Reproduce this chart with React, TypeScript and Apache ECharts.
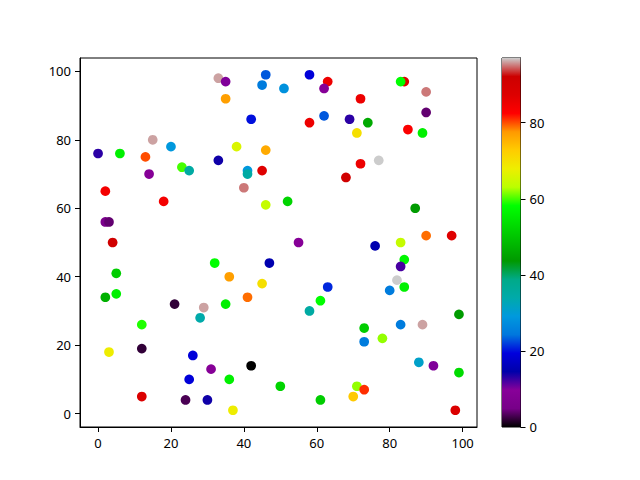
import React, { useEffect, useRef } from "react";
import * as echarts from "echarts";

// x, y, colour value of each point
const xs = [33, 35, 46, 45, 35, 42, 15, 0, 6, 13, 20, 38, 46, 23, 25, 33, 14, 41, 41, 45, 40, 2, 51, 58, 63, 62, 62, 58, 72, 69, 74, 71, 84, 83, 90, 90, 85, 89, 77, 72, 68, 18, 46, 2, 3, 4, 32, 47, 5, 36, 45, 2, 5, 41, 21, 29, 35, 52, 87, 90, 97, 55, 76, 83, 84, 83, 82, 84, 80, 63, 61, 58, 12, 28, 3, 12, 26, 42, 31, 25, 36, 50, 12, 24, 30, 37, 99, 73, 83, 89, 78, 73, 88, 92, 99, 71, 73, 70, 61, 98];
const ys = [98, 97, 99, 96, 92, 86, 80, 76, 76, 75, 78, 78, 77, 72, 71, 74, 70, 71, 70, 71, 66, 65, 95, 99, 97, 95, 87, 85, 92, 86, 85, 82, 97, 97, 94, 88, 83, 82, 74, 73, 69, 62, 61, 56, 56, 50, 44, 44, 41, 40, 38, 34, 35, 34, 32, 31, 32, 62, 60, 52, 52, 50, 49, 50, 45, 43, 39, 37, 36, 37, 33, 30, 26, 28, 18, 19, 17, 14, 13, 10, 10, 8, 5, 4, 4, 1, 29, 25, 26, 26, 22, 21, 15, 14, 12, 8, 7, 5, 4, 1];
const vals = [96, 10, 23, 25, 77, 20, 96, 13, 56, 80, 29, 66, 76, 60, 35, 14, 9, 29, 35, 87, 95, 84, 28, 19, 85, 9, 23, 85, 85, 13, 46, 70, 87, 58, 95, 4, 83, 56, 97, 85, 91, 84, 64, 6, 4, 91, 58, 15, 51, 77, 70, 47, 56, 79, 2, 96, 56, 52, 44, 79, 87, 9, 15, 64, 57, 12, 97, 56, 25, 21, 58, 35, 59, 34, 68, 2, 19, 0, 9, 19, 56, 52, 88, 3, 14, 68, 44, 51, 25, 96, 62, 25, 31, 10, 53, 62, 81, 73, 51, 88];

const xTicks = [0, 20, 40, 60, 80, 100];
const yTicks = [0, 20, 40, 60, 80, 100];
const cbTicks = [0, 20, 40, 60, 80];
const vMin = 0;
const vMax = 97;

// nipy_spectral colormap, 21 evenly spaced stops
const cmap = [
  "#000000", "#770088", "#880099", "#0000aa", "#0000dd", "#0077dd", "#0099dd",
  "#00aaaa", "#00aa88", "#009900", "#00bb00", "#00dd00", "#00ff00", "#bbff00",
  "#eeee00", "#ffcc00", "#ff9900", "#ff0000", "#dd0000", "#cc0000", "#cccccc",
];

export default function App() {
  const ref = useRef<HTMLDivElement>(null);
  useEffect(() => {
    if (!ref.current) return;
    const chart = echarts.init(ref.current, undefined, { renderer: "svg" });
    const font = "Noto Sans";
    const data = xs.map((x, i) => [x, ys[i], vals[i]]);
    const stops = cmap.map((c, i) => ({ offset: i / (cmap.length - 1), color: c }));
    const labelStyle = { color: "#000", fontSize: 13, fontFamily: font };
    chart.setOption({
      animation: false,
      backgroundColor: "#fff",
      grid: [
        { left: 80, top: 58, width: 397, height: 369, show: true, borderColor: "#000", borderWidth: 1, backgroundColor: "transparent" },
        { left: 502, top: 58, width: 18.5, height: 369, show: true, borderColor: "#000", borderWidth: 1, backgroundColor: "transparent" },
      ],
      xAxis: [
        {
          type: "value", gridIndex: 0, min: -4.95, max: 103.95,
          axisLine: { show: true, onZero: false, lineStyle: { color: "#000", width: 1 } },
          axisTick: { show: true, length: 5, inside: false, lineStyle: { color: "#000" }, customValues: xTicks },
          axisLabel: { ...labelStyle, margin: 9, customValues: xTicks },
          splitLine: { show: false },
        },
        {
          type: "category", gridIndex: 1, data: ["c"], show: false,
        },
      ],
      yAxis: [
        {
          type: "value", gridIndex: 0, min: -3.9, max: 103.9,
          axisLine: { show: true, onZero: false, lineStyle: { color: "#000", width: 1 } },
          axisTick: { show: true, length: 5, inside: false, lineStyle: { color: "#000" }, customValues: yTicks },
          axisLabel: { ...labelStyle, margin: 9, customValues: yTicks },
          splitLine: { show: false },
        },
        {
          type: "value", gridIndex: 1, min: vMin, max: vMax, position: "right",
          axisLine: { show: true, lineStyle: { color: "#000", width: 1 } },
          axisTick: { show: true, length: 5, inside: false, lineStyle: { color: "#000" }, customValues: cbTicks },
          axisLabel: { ...labelStyle, margin: 9, customValues: cbTicks },
          splitLine: { show: false },
        },
      ],
      visualMap: {
        show: false, type: "continuous", min: vMin, max: vMax, dimension: 2, seriesIndex: 0,
        inRange: { color: cmap },
      },
      series: [
        {
          type: "scatter", xAxisIndex: 0, yAxisIndex: 0, data,
          symbol: "circle", symbolSize: 9.7, itemStyle: { opacity: 1 },
        },
        {
          type: "bar", xAxisIndex: 1, yAxisIndex: 1, data: [vMax], barWidth: "100%",
          itemStyle: { color: new echarts.graphic.LinearGradient(0, 1, 0, 0, stops) },
          silent: true,
        },
      ],
    });
    return () => chart.dispose();
  }, []);
  return <div ref={ref} style={{ position: "fixed", left: 0, top: 0, width: 640, height: 480 }} />;
}
